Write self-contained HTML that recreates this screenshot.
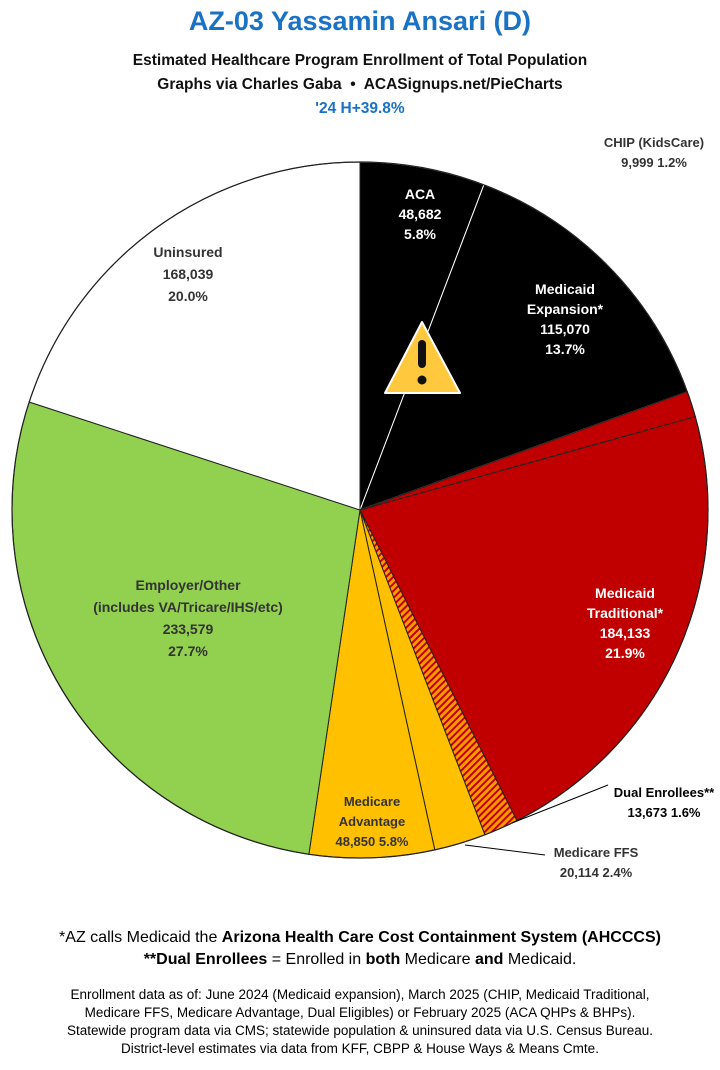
<!DOCTYPE html>
<html><head><meta charset="utf-8">
<style>
body{margin:0;width:720px;height:1070px;background:#fff;font-family:"Liberation Sans",Arial,sans-serif;overflow:hidden;position:relative}
.t{position:absolute;left:0;width:720px;text-align:center;font-weight:bold}
svg{position:absolute;left:0;top:0}
</style></head><body>
<div class="t" style="top:6px;font-size:27px;color:#1a72c4">AZ-03 Yassamin Ansari (D)</div>
<div class="t" style="top:52px;font-size:15.5px;color:#111">Estimated Healthcare Program Enrollment of Total Population</div>
<div class="t" style="top:76px;font-size:15.5px;color:#111">Graphs via Charles Gaba &nbsp;•&nbsp; ACASignups.net/PieCharts</div>
<div class="t" style="top:100px;font-size:15.5px;color:#1a72c4">'24 H+39.8%</div>
<svg id="s" width="720" height="1070" viewBox="0 0 720 1070">
<defs><pattern id="h" width="5" height="5" patternUnits="userSpaceOnUse" patternTransform="rotate(45)"><rect width="5" height="5" fill="#ff9900"/><rect width="2" height="5" fill="#c00000"/></pattern></defs>
<g id="p"></g>
<g font-family="Liberation Sans,Arial,sans-serif" font-weight="bold" font-size="14" text-anchor="middle">
<text x="420" y="199" fill="#fff">ACA</text><text x="420" y="219" fill="#fff">48,682</text><text x="420" y="239" fill="#fff">5.8%</text>
<text x="565" y="294" fill="#fff">Medicaid</text><text x="565" y="314" fill="#fff">Expansion*</text><text x="565" y="334" fill="#fff">115,070</text><text x="565" y="354" fill="#fff">13.7%</text>
<text x="654" y="147" fill="#333" font-size="13">CHIP (KidsCare)</text><text x="654" y="167" fill="#333" font-size="13">9,999 1.2%</text>
<text x="625" y="598" fill="#fff">Medicaid</text><text x="625" y="618" fill="#fff">Traditional*</text><text x="625" y="638" fill="#fff">184,133</text><text x="625" y="658" fill="#fff">21.9%</text>
<text x="664" y="797" fill="#000" font-size="13">Dual Enrollees**</text><text x="664" y="817" fill="#000" font-size="13">13,673 1.6%</text>
<text x="596" y="857" fill="#333" font-size="13">Medicare FFS</text><text x="596" y="877" fill="#333" font-size="13">20,114 2.4%</text>
<text x="372" y="806" fill="#333" font-size="13">Medicare</text><text x="372" y="826" fill="#333" font-size="13">Advantage</text><text x="372" y="846" fill="#333" font-size="13">48,850 5.8%</text>
<text x="188" y="590" fill="#333">Employer/Other</text><text x="188" y="612" fill="#333">(includes VA/Tricare/IHS/etc)</text><text x="188" y="634" fill="#333">233,579</text><text x="188" y="656" fill="#333">27.7%</text>
<text x="188" y="257" fill="#333">Uninsured</text><text x="188" y="279" fill="#333">168,039</text><text x="188" y="301" fill="#333">20.0%</text>
</g>
<line x1="608" y1="785" x2="512" y2="823" stroke="#000" stroke-width="1"/>
<line x1="545" y1="855" x2="465" y2="845" stroke="#000" stroke-width="1"/>
<path d="M422 322 L460 393 L385 393 Z" fill="#ffc83d" stroke="#fff" stroke-width="2" stroke-linejoin="round"/>
<rect x="418" y="340" width="8" height="28" rx="4" fill="#111"/><circle cx="422" cy="380" r="4.5" fill="#111"/>
</svg>
<div class="t" style="top:929px;font-size:16px;font-weight:normal;color:#000">*AZ calls Medicaid the <b>Arizona Health Care Cost Containment System (AHCCCS)</b></div>
<div class="t" style="top:951px;font-size:16px;font-weight:normal;color:#000"><b>**Dual Enrollees</b> = Enrolled in <b>both</b> Medicare <b>and</b> Medicaid.</div>
<div class="t" style="top:986px;font-size:13.5px;font-weight:normal;color:#000;line-height:18px">Enrollment data as of: June 2024 (Medicaid expansion), March 2025 (CHIP, Medicaid Traditional,<br>Medicare FFS, Medicare Advantage, Dual Eligibles) or February 2025 (ACA QHPs &amp; BHPs).<br>Statewide program data via CMS; statewide population &amp; uninsured data via U.S. Census Bureau.<br>District-level estimates via data from KFF, CBPP &amp; House Ways &amp; Means Cmte.</div>
<script>
var cx=360,cy=510,r=348;
var d=[[5.8,"#000","#fff"],[13.7,"#000","#fff"],[1.2,"#c00000","#222"],[21.9,"#c00000","#222"],[1.6,"url(#h)","#222"],[2.4,"#ffc000","#222"],[5.8,"#ffc000","#222"],[27.7,"#92d050","#222"],[20.0,"#fff","#222"]];
var tot=0;d.forEach(function(x){tot+=x[0]});
var a=0,g=document.getElementById("p"),h="";
function pt(t){return [cx+r*Math.sin(t),cy-r*Math.cos(t)];}
d.forEach(function(x){var b=a+x[0]/tot*2*Math.PI;var p=pt(a),q=pt(b);
h+='<path d="M'+cx+' '+cy+' L'+p[0].toFixed(1)+' '+p[1].toFixed(1)+' A'+r+' '+r+' 0 '+((b-a)>Math.PI?1:0)+' 1 '+q[0].toFixed(1)+' '+q[1].toFixed(1)+' Z" fill="'+x[1]+'" stroke="'+x[2]+'" stroke-width="1"/>';a=b;});
h+='<circle cx="'+cx+'" cy="'+cy+'" r="'+r+'" fill="none" stroke="#222" stroke-width="1.2"/>';
g.innerHTML=h;
</script>
</body></html>
